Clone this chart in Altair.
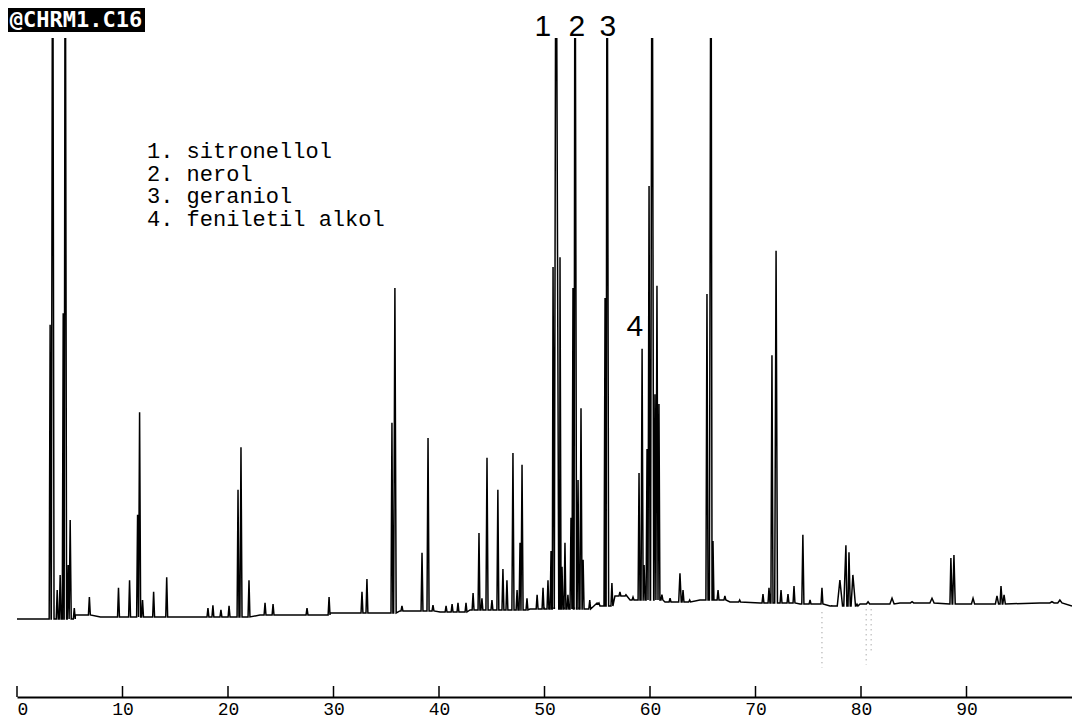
import altair as alt
import pandas as pd

# ---------------- data ----------------
# retention time (min) and detector signal (relative units, 100 = top of the plot)
base_t = [0.0, 2.85, 5.53, 7.91, 12.66, 17.43, 23.03, 29.67, 36.30, 40.10, 42.94, 48.63,
          50.05, 54.31, 55.26, 56.68, 58.11, 61.42, 64.73, 67.58, 70.43, 74.22, 77.06,
          79.91, 83.69, 88.43, 93.18, 96.96, 100.0]
base_v = [0.34, 0.34, 1.03, 0.69, 0.69, 0.69, 1.03, 1.37, 1.72, 1.54, 1.89, 2.06,
          2.06, 3.09, 2.57, 4.29, 3.6, 3.26, 3.6, 3.26, 3.09, 2.92, 2.57,
          2.92, 3.09, 2.92, 2.92, 3.09, 2.57]

peak_t = [3.14, 3.38, 3.81, 4.09, 4.38, 4.57, 4.85, 5.04, 5.43, 6.86, 9.62, 10.67, 11.43, 11.62,
          11.90, 12.95, 14.19, 18.10, 18.57, 19.33, 20.10, 20.95, 21.23, 21.99, 23.51, 24.27,
          27.49, 29.58, 32.70, 33.17, 35.54, 35.82, 36.49, 38.39, 38.96, 39.43, 40.67, 41.24,
          41.80, 42.56, 43.23, 43.79, 44.07, 44.55, 45.02, 45.58, 46.06, 46.44, 47.01, 47.40,
          47.68, 47.87, 48.34, 49.30, 49.86, 50.33, 50.62, 50.81, 51.09, 51.47, 51.66, 51.94,
          52.22, 52.51, 52.70, 52.89, 53.18, 53.46, 53.66, 54.29, 55.07, 55.74, 55.93, 56.39,
          57.15, 57.72, 58.39, 58.96, 59.25, 59.44, 59.72, 59.91, 60.20, 60.47, 60.66, 60.85,
          61.13, 61.90, 62.84, 63.13, 63.76, 65.40, 65.78, 65.97, 66.45, 67.10, 68.50, 70.71, 71.28,
          71.56, 71.95, 72.42, 73.08, 73.65, 74.49, 75.17, 76.30, 77.23, 78.00, 78.57, 78.86,
          79.23, 79.62, 80.67, 82.94, 84.84, 86.73, 88.52, 88.81, 90.62, 92.89, 93.27, 93.56,
          98.10, 98.85]
peak_v = [50.8, 140, 5.3, 7.9, 52.8, 140, 9.6, 17.3, 2.2, 4.1, 5.7, 7.0, 18.2, 35.8,
          3.6, 5.0, 7.5, 2.2, 2.7, 1.9, 2.6, 22.5, 29.8, 7.0, 3.1, 2.9,
          2.2, 4.1, 5.0, 7.2, 34.0, 57.1, 2.6, 11.7, 31.4, 2.7, 2.6, 2.9,
          3.1, 3.1, 4.8, 15.1, 3.9, 28.0, 3.6, 22.5, 8.9, 7.0, 28.8, 5.3,
          13.4, 26.8, 3.9, 4.5, 5.7, 7.0, 12.0, 60.7, 140, 62.4, 9.3, 13.4,
          4.5, 17.7, 57.1, 140, 24.2, 36.5, 10.5, 3.6, 2.9, 55.4, 140, 6.5,
          5.0, 4.5, 4.1, 25.4, 46.7, 9.6, 29.5, 74.6, 140, 38.9, 57.5, 37.2,
          4.5, 3.9, 8.2, 5.3, 3.6, 56.1, 140, 13.7, 5.3, 4.3, 3.6, 4.6, 5.7,
          45.6, 63.5, 5.3, 4.6, 6.0, 14.8, 3.6, 5.7, 2.6, 7.0, 13.0, 11.8,
          7.9, 2.9, 3.3, 3.9, 3.3, 3.9, 10.8, 11.3, 3.9, 4.3, 6.0, 4.5,
          3.3, 3.6]
peak_w = [0.09, 0.13, 0.09, 0.09, 0.09, 0.13, 0.09, 0.1, 0.09, 0.09, 0.09, 0.09, 0.09, 0.1,
          0.09, 0.09, 0.09, 0.09, 0.09, 0.09, 0.09, 0.09, 0.1, 0.09, 0.09, 0.09,
          0.09, 0.09, 0.09, 0.09, 0.09, 0.12, 0.09, 0.09, 0.1, 0.09, 0.09, 0.09,
          0.09, 0.09, 0.09, 0.09, 0.09, 0.1, 0.09, 0.09, 0.09, 0.09, 0.1, 0.09,
          0.09, 0.1, 0.09, 0.09, 0.09, 0.09, 0.09, 0.12, 0.35, 0.12, 0.09, 0.09,
          0.09, 0.09, 0.1, 0.15, 0.09, 0.1, 0.09, 0.09, 0.09, 0.1, 0.15, 0.09,
          0.09, 0.09, 0.09, 0.09, 0.1, 0.09, 0.09, 0.1, 0.15, 0.09, 0.1, 0.09,
          0.09, 0.09, 0.12, 0.09, 0.09, 0.1, 0.15, 0.09, 0.09, 0.09, 0.09, 0.09, 0.09,
          0.1, 0.13, 0.09, 0.09, 0.09, 0.1, 0.09, 0.09, 0.09, 0.25, 0.2, 0.2,
          0.25, 0.09, 0.15, 0.2, 0.15, 0.2, 0.12, 0.12, 0.15, 0.15, 0.12, 0.12,
          0.2, 0.2]

# dotted integration baseline under peaks 1-2
dot_t = [49.87, 53.66]
dot_v = [2.2, 2.2]
# dotted pen marks below the baseline
mark_t = [76.30, 80.49, 80.96]
mark_v1 = [1.5, 2.0, 2.0]
mark_v2 = [-8.0, -7.5, -5.5]

tick_values = [0, 10, 20, 30, 40, 50, 60, 70, 80, 90]
legend_lines = ["1. sitronellol", "2. nerol", "3. geraniol", "4. feniletil alkol"]
peak_label_text = ["1", "2", "3", "4"]
peak_label_t = [49.85, 53.07, 56.0, 58.56]
peak_label_v = [101.9, 101.9, 101.9, 50.4]
file_title = "@CHRM1.C16"

# ---------------- build the trace table ----------------
def base_at(t):
    b = base_v[0]
    for bt, bv in zip(base_t, base_v):
        if bt <= t:
            b = bv
    return b

rows = [(t, v) for t, v in zip(base_t, base_v)]
for t, v, w in zip(peak_t, peak_v, peak_w):
    b = base_at(t)
    rows += [(t - w, b), (t, v), (t + w, b)]
trace = pd.DataFrame(rows, columns=["t", "v"]).sort_values("t", kind="stable").reset_index(drop=True)
trace["o"] = range(len(trace))

W, H = 1055, 659
xs = alt.Scale(domain=[0, 100], nice=False, zero=False)
ys = alt.Scale(domain=[-13.04, 100], nice=False, zero=False)

line = alt.Chart(trace).mark_line(color="black", strokeWidth=1.5, clip=True).encode(
    x=alt.X("t:Q", scale=xs,
            axis=alt.Axis(values=tick_values, ticks=False, tickSize=0, grid=False, title=None,
                          domainColor="black", domainWidth=2, labelColor="black",
                          labelFont="Liberation Mono", labelFontSize=18, labelPadding=3)),
    y=alt.Y("v:Q", scale=ys, axis=None),
    order="o:Q",
)

ticks = alt.Chart(pd.DataFrame({"t": tick_values})).mark_rule(color="black", strokeWidth=1.5).encode(
    x=alt.X("t:Q", scale=xs), y=alt.value(H), y2=alt.value(H - 11))

dotted = alt.Chart(pd.DataFrame({"t": dot_t, "v": dot_v})).mark_line(
    color="black", strokeWidth=1.2, strokeDash=[2, 3]).encode(
    x=alt.X("t:Q", scale=xs), y=alt.Y("v:Q", scale=ys))

pen = alt.Chart(pd.DataFrame({"t": mark_t, "v": mark_v1, "v2": mark_v2})).mark_rule(
    color="#888888", strokeWidth=1, strokeDash=[1, 4]).encode(
    x=alt.X("t:Q", scale=xs), y=alt.Y("v:Q", scale=ys), y2="v2:Q")

plabels = alt.Chart(pd.DataFrame({"t": peak_label_t, "v": peak_label_v, "s": peak_label_text})).mark_text(
    font="Liberation Sans", fontSize=30, color="black", baseline="middle", align="center").encode(
    x=alt.X("t:Q", scale=xs), y=alt.Y("v:Q", scale=ys), text="s:N")

one = pd.DataFrame({"a": [0]})
legend_layers = []
for i, s in enumerate(legend_lines):
    legend_layers.append(
        alt.Chart(one).mark_text(font="Liberation Mono", fontSize=22, color="black",
                                 align="left", baseline="alphabetic").encode(
            x=alt.value(130), y=alt.value(120 + 22.7 * i), text=alt.value(s)))

title_box = alt.Chart(one).mark_rect(color="black").encode(
    x=alt.value(-9), x2=alt.value(128), y=alt.value(-30), y2=alt.value(-6))
title_text = alt.Chart(one).mark_text(font="DejaVu Sans Mono", fontSize=22, fontWeight="bold",
                                      color="white", align="center", baseline="middle").encode(
    x=alt.value(59), y=alt.value(-18), text=alt.value(file_title))

chart = alt.layer(line, ticks, dotted, pen, plabels, *legend_layers, title_box, title_text).properties(
    width=W, height=H,
    autosize=alt.AutoSizeParams(type="none"),
    padding={"left": 9, "top": 30, "right": 0, "bottom": 26},
    background="white",
).configure_view(stroke=None)

chart.save("out.html", embed_options={"renderer": "svg", "actions": False})
